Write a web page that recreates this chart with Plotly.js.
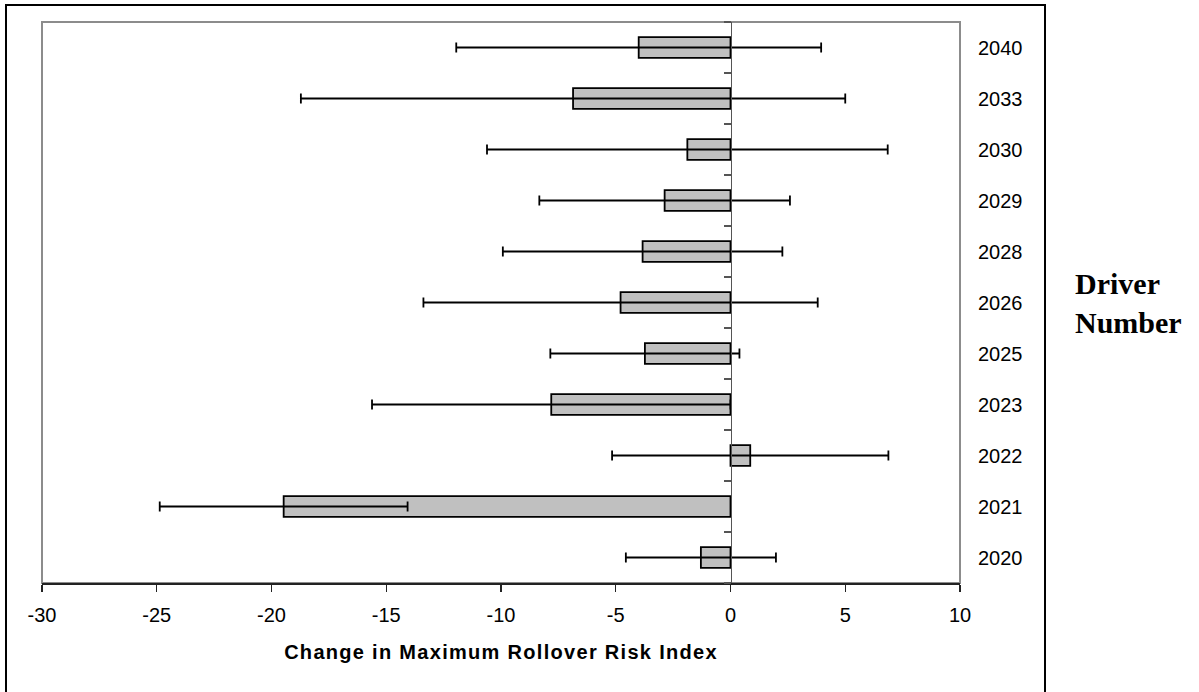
<!DOCTYPE html>
<html>
<head>
<meta charset="utf-8">
<script src="https://cdn.plot.ly/plotly-3.0.1.min.js"></script>
<style>
  html, body { margin: 0; padding: 0; background: #fff; overflow: hidden; }
  #wrap { position: relative; width: 1199px; height: 692px; }
  #chart { position: absolute; left: 0; top: 0; width: 1199px; height: 692px; }
  #frame {
    position: absolute; left: 5px; top: 4px; width: 1037px; height: 720px;
    border: 2px solid #000; pointer-events: none;
  }
  .xtitle { letter-spacing: 1.3px; }
</style>
</head>
<body>
<div id="wrap">
  <div id="chart"></div>
  <div id="frame"></div>
</div>
<script>
// Driver numbers, bottom to top
const drivers = ['2020', '2021', '2022', '2023', '2025', '2026', '2028', '2029', '2030', '2033', '2040'];
// Mean change in maximum rollover risk index per driver
const changeValues = [-1.29, -19.47, 0.86, -7.81, -3.73, -4.79, -3.83, -2.87, -1.88, -6.86, -4.0];
// Symmetric error-bar half-widths
const errorValues = [3.27, 5.4, 6.02, 7.81, 4.12, 8.59, 6.09, 5.46, 8.73, 11.86, 7.95];
// X axis ticks
const xTicks = [-30, -25, -20, -15, -10, -5, 0, 5, 10];
const xTickLabels = ['-30', '-25', '-20', '-15', '-10', '-5', '0', '5', '10'];

const xRange = [xTicks[0], xTicks[xTicks.length - 1]];
const catRange = [-0.5, drivers.length - 0.5];

const bars = {
  type: 'bar',
  orientation: 'h',
  x: changeValues,
  y: drivers,
  yaxis: 'y',
  marker: { color: '#c0c0c0', line: { color: '#000', width: 1.8 } },
  error_x: {
    type: 'data', array: errorValues, symmetric: true,
    color: '#000', thickness: 1.8, width: 5
  },
  hoverinfo: 'x+y',
  showlegend: false
};

// carries the driver labels on the right-hand axis
const labelCarrier = {
  type: 'scatter',
  mode: 'markers',
  x: changeValues,
  y: drivers,
  yaxis: 'y2',
  marker: { opacity: 0 },
  hoverinfo: 'skip',
  showlegend: false
};

// category axis sits on the zero line
const zeroPos = (0 - xRange[0]) / (xRange[1] - xRange[0]);

const layout = {
  width: 1199,
  height: 692,
  margin: { l: 42, r: 239, t: 22, b: 109 },
  paper_bgcolor: '#fff',
  plot_bgcolor: '#fff',
  bargap: 0.59,
  font: { family: '"Liberation Sans", Arial, sans-serif', color: '#000', size: 20 },
  xaxis: {
    range: xRange,
    tickmode: 'array',
    tickvals: xTicks,
    ticktext: xTickLabels,
    showgrid: false,
    zeroline: false,
    showline: true,
    linecolor: '#222',
    linewidth: 1.5,
    ticks: 'outside',
    ticklen: 7,
    tickwidth: 1.3,
    tickcolor: '#222',
    tickfont: { size: 20 },
    ticklabelstandoff: 6,
    title: {
      text: 'Change in Maximum Rollover Risk Index',
      font: { size: 20, weight: 'bold' },
      standoff: 20
    }
  },
  yaxis: {
    type: 'category',
    categoryorder: 'array',
    categoryarray: drivers,
    range: catRange,
    anchor: 'free',
    position: zeroPos,
    showgrid: false,
    zeroline: false,
    showline: true,
    linecolor: '#555',
    linewidth: 1.5,
    ticks: 'outside',
    tickson: 'boundaries',
    ticklen: 7,
    tickwidth: 1.3,
    tickcolor: '#555',
    showticklabels: false
  },
  yaxis2: {
    type: 'category',
    categoryorder: 'array',
    categoryarray: drivers,
    range: catRange,
    overlaying: 'y',
    side: 'right',
    anchor: 'x',
    showgrid: false,
    zeroline: false,
    showline: false,
    ticks: '',
    ticklabelstandoff: 17,
    tickfont: { size: 20 }
  },
  shapes: [{
    type: 'rect', xref: 'paper', yref: 'paper',
    x0: 0, x1: 1, y0: 0, y1: 1,
    line: { color: '#8c8c8c', width: 2 },
    layer: 'below'
  }],
  annotations: [{
    xref: 'paper', yref: 'paper',
    x: 1.123, y: 0.5,
    xanchor: 'left', yanchor: 'middle',
    align: 'left',
    showarrow: false,
    text: 'Driver<br>Number',
    font: { family: '"Liberation Serif", "Times New Roman", serif', size: 30, weight: 'bold', color: '#000' }
  }]
};

Plotly.newPlot('chart', [bars, labelCarrier], layout, { displayModeBar: false, staticPlot: true });
</script>
</body>
</html>
